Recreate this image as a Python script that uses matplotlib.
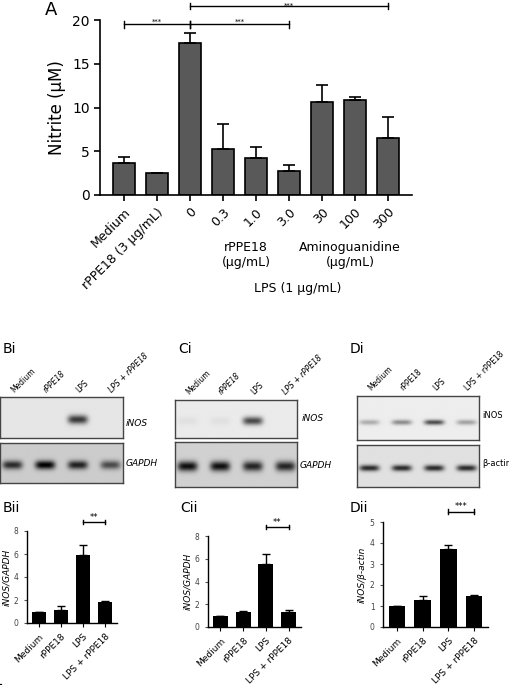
import numpy as np
import matplotlib
matplotlib.use("Agg")
import matplotlib.pyplot as plt

W, H = 510, 685
# Panel A data
a_labels = ["Medium", "rPPE18 (3 µg/mL)", "0", "0.3", "1.0", "3.0", "30", "100", "300"]
a_vals = [3.7, 2.5, 17.4, 5.3, 4.2, 2.8, 10.6, 10.9, 6.5]
a_err = [0.6, 0.0, 1.1, 2.8, 1.3, 0.6, 2.0, 0.3, 2.4]

lane_labels = ["Medium", "rPPE18", "LPS", "LPS + rPPE18"]
b_vals = [1.0, 1.15, 5.95, 1.85]; b_err = [0.0, 0.35, 0.8, 0.1]
c_vals = [1.0, 1.35, 5.55, 1.35]; c_err = [0.0, 0.05, 0.85, 0.15]
d_vals = [1.0, 1.28, 3.72, 1.48]; d_err = [0.0, 0.22, 0.2, 0.05]

# gel band intensities (relative)
b_inos = [0.0, 0.0, 0.8, 0.0]; b_gapdh = [0.75, 0.95, 0.8, 0.6]
c_inos = [0.05, 0.05, 0.75, 0.0]; c_gapdh = [0.9, 0.9, 0.8, 0.8]
d_inos = [0.3, 0.45, 0.75, 0.35]; d_actin = [0.85, 0.85, 0.85, 0.85]

fig = plt.figure(figsize=(W/100, H/100), dpi=100)

def ax_px(x0, y0, x1, y1):
    return fig.add_axes([x0/W, 1 - y1/H, (x1-x0)/W, (y1-y0)/H])

def ftxt(x, y, s, **kw):
    fig.text(x/W, 1 - y/H, s, **kw)

def bracket(ax, x0, x1, y, label, fs=6, cap=0.35, pad=0.0):
    ax.plot([x0, x1], [y, y], color="black", lw=1, clip_on=False)
    for xx in (x0, x1):
        ax.plot([xx, xx], [y-cap, y+cap], color="black", lw=1, clip_on=False)
    ax.text((x0+x1)/2, y + pad, label, ha="center", va="bottom", fontsize=fs)

def style(ax):
    for s in ("top", "right"):
        ax.spines[s].set_visible(False)

# ---- Panel A
ax = ax_px(100, 20, 412, 195)
x = np.arange(len(a_vals))
ax.bar(x, a_vals, width=0.65, color="#595959", edgecolor="black", lw=1.2)
ax.errorbar(x, a_vals, yerr=[np.zeros(len(a_err)), a_err], fmt="none", ecolor="black", elinewidth=1.2, capsize=4, capthick=1.2)
ax.set_xlim(-0.73, 8.73); ax.set_ylim(0, 20)
ax.set_yticks([0, 5, 10, 15, 20])
ax.set_xticks(x)
ax.set_xticklabels(a_labels, rotation=45, ha="right", rotation_mode="anchor", fontsize=9)
ax.tick_params(labelsize=10, width=1.2, length=4)
ax.tick_params(axis="x", labelsize=9)
for s in ("left", "bottom"):
    ax.spines[s].set_linewidth(1.2)
style(ax)
ax.set_ylabel("Nitrite (µM)", fontsize=12)
bracket(ax, 0, 2, 19.5, "***", fs=5, cap=0.4)
bracket(ax, 2, 5, 19.5, "***", fs=5, cap=0.4)
bracket(ax, 2, 8, 21.6, "***", fs=5, cap=0.35, pad=-0.35)
fig.lines.append(plt.Line2D([198/W, 292/W], [1-232/H]*2, color="black", lw=0.8))
fig.lines.append(plt.Line2D([302/W, 397/W], [1-232/H]*2, color="black", lw=0.8))
fig.lines.append(plt.Line2D([173/W, 415/W], [1-277/H]*2, color="black", lw=0.8))
ftxt(246, 255, "rPPE18\n(µg/mL)", ha="center", va="center", fontsize=9)
ftxt(350, 255, "Aminoguanidine\n(µg/mL)", ha="center", va="center", fontsize=9)
ftxt(298, 288, "LPS (1 µg/mL)", ha="center", va="center", fontsize=9)
ftxt(45, 10, "A", fontsize=13, va="center")

# ---- Gels
def gel(x0, y0, x1, y1, intens, bg=0.88, bw=0.18, bh=0.22, cy=0.55):
    g = ax_px(x0, y0, x1, y1)
    nx, ny = 200, 60
    X, Y = np.meshgrid(np.linspace(0, 1, nx), np.linspace(0, 1, ny))
    img = np.full((ny, nx), bg)
    cx = np.linspace(0.1, 0.9, len(intens))
    for c, v in zip(cx, intens):
        img -= v * np.exp(-((X-c)/bw*2.2)**4 - ((Y-cy)/bh*2)**2) * 0.85
    g.imshow(img, cmap="gray", vmin=0, vmax=1, aspect="auto", extent=[0, 1, 1, 0])
    g.set_xticks([]); g.set_yticks([])
    for s in g.spines.values():
        s.set_linewidth(1); s.set_color("#444444")
    return g

gel(0, 397, 123, 438, b_inos, bg=0.9)
gel(0, 443, 123, 483, b_gapdh, bg=0.8)
gel(175, 400, 297, 438, c_inos, bg=0.92)
gel(175, 442, 297, 487, c_gapdh, bg=0.82)
gel(357, 396, 479, 440, d_inos, bg=0.93, bh=0.12, cy=0.6)
gel(357, 445, 479, 487, d_actin, bg=0.88, bh=0.15)

it = dict(fontsize=6.5, style="italic", va="center")
ftxt(126, 423, "iNOS", **it); ftxt(126, 463, "GAPDH", **it)
ftxt(302, 418, "iNOS", **it); ftxt(300, 465, "GAPDH", **it)
ftxt(482, 416, "iNOS", fontsize=6, va="center"); ftxt(482, 464, "β-actin", fontsize=6, va="center")

for gx0, gx1, ytop, ital in [(0, 123, 394, True), (175, 297, 396, True), (357, 479, 392, False)]:
    cxs = np.linspace(gx0 + 0.1*(gx1-gx0), gx0 + 0.9*(gx1-gx0), 4)
    for cx, lab in zip(cxs, lane_labels):
        ftxt(cx + 3, ytop, lab, fontsize=5.5, rotation=45, ha="left", va="bottom",
             rotation_mode="anchor", style="italic" if (ital and "rPPE" in lab) else "normal")

ftxt(3, 349, "Bi", fontsize=10, va="center")
ftxt(178, 349, "Ci", fontsize=10, va="center")
ftxt(350, 349, "Di", fontsize=10, va="center")
ftxt(3, 508, "Bii", fontsize=10, va="center")
ftxt(180, 508, "Cii", fontsize=10, va="center")
ftxt(350, 508, "Dii", fontsize=10, va="center")

def small(x0, y0, x1, y1, vals, err, ymax, step, ylabel, sy, sig):
    a = ax_px(x0, y0, x1, y1)
    xx = np.arange(4)
    a.bar(xx, vals, width=0.65, color="black")
    a.errorbar(xx, vals, yerr=[np.zeros(4), err], fmt="none", ecolor="black", elinewidth=1, capsize=3, capthick=1)
    a.set_xlim(-0.55, 3.55); a.set_ylim(0, ymax)
    a.set_yticks(np.arange(0, ymax + 0.01, step))
    a.set_xticks(xx)
    a.set_xticklabels(lane_labels, rotation=45, ha="right", rotation_mode="anchor", fontsize=6.5)
    a.tick_params(axis="y", labelsize=5.5, length=2.5, width=0.8, colors="#555555", labelcolor="#444444")
    a.tick_params(axis="x", length=3, width=0.8)
    for s in ("left", "bottom"):
        a.spines[s].set_linewidth(1)
    style(a)
    a.set_ylabel(ylabel, fontsize=6.5, style="italic", labelpad=2)
    bracket(a, 2, 3, sy, sig, fs=6, cap=ymax*0.025)

small(27, 531, 117, 623, b_vals, b_err, 8, 2, "iNOS/GAPDH", 8.8, "**")
small(208, 536, 301, 627, c_vals, c_err, 8, 2, "iNOS/GAPDH", 8.8, "**")
small(383, 522, 488, 627, d_vals, d_err, 5, 1, "iNOS/β-actin", 5.5, "***")

fig.savefig("out.png", dpi=100, facecolor="white")
